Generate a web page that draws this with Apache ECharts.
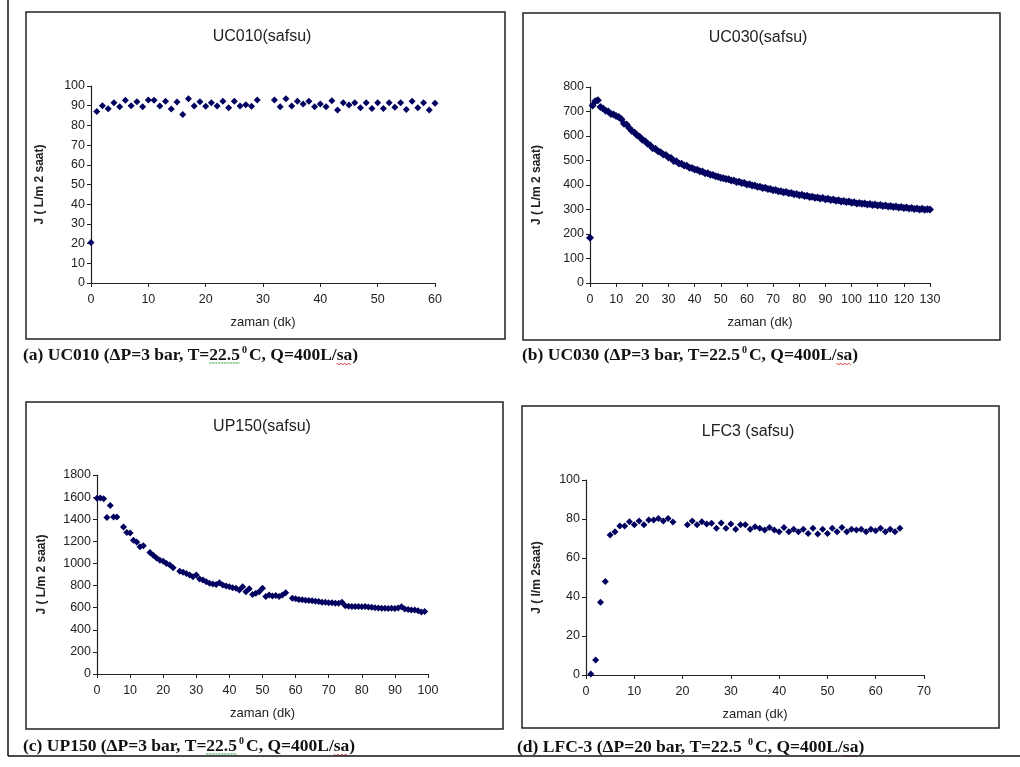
<!DOCTYPE html>
<html>
<head>
<meta charset="utf-8">
<script src="https://cdn.jsdelivr.net/npm/echarts@6/dist/echarts.min.js"></script>
<style>
html,body{margin:0;padding:0;background:#fff;}
#c{width:1020px;height:767px;}
</style>
</head>
<body>
<div id="c"></div>
<script>
// ---------- DATA ----------
const panelTitles = ['UC010(safsu)', 'UC030(safsu)', 'UP150(safsu)', 'LFC3 (safsu)'];
const yNames = ['J ( L/m 2 saat)', 'J ( L/m 2 saat)', 'J ( L/m 2 saat)', 'J ( l/m 2saat)'];
const xName = 'zaman (dk)';
const captionsMain = [
  '(a) UC010 (ΔP=3 bar, T=22.5', '(b) UC030 (ΔP=3 bar, T=22.5', '(c) UP150 (ΔP=3 bar, T=22.5', '(d) LFC-3 (ΔP=20 bar, T=22.5 '
];
const captionTail = 'C, Q=400L/sa)';

// (a) UC010
const aTime = [0,1,2,3,4,5,6,7,8,9,10,11,12,13,14,15,16,17,18,19,20,21,22,23,24,25,26,27,28,29,
  32,33,34,35,36,37,38,39,40,41,42,43,44,45,46,47,48,49,50,51,52,53,54,55,56,57,58,59,60];
const aFlux = [20.5,87,90,88.5,91.5,89.5,92.8,90,92,89.5,92.9,92.8,89.8,92.2,88.3,91.9,85.5,93.5,89.8,92,89.7,91.5,89.8,92.2,89,92.2,89.8,90.5,89.7,92.9,
  92.9,89.5,93.5,89.8,92.2,90.8,92.2,89.5,90.8,89.5,92.5,87.8,91.5,90.3,91.5,89,91.5,88.6,91.5,88.6,91.5,89.2,91.5,88.1,92.2,89,91.5,87.8,91.2];

// (b) UC030
const bTime = [0,1,2,3,4,5,6,7,8,9,10,11,12,13,14,15,16,17,18,19,20,21,22,23,24,25,26,27,28,29,
  30,31,32,33,34,35,36,37,38,39,40,41,42,43,44,45,46,47,48,49,50,51,52,53,54,55,56,57,58,59,
  60,61,62,63,64,65,66,67,68,69,70,71,72,73,74,75,76,77,78,79,80,81,82,83,84,85,86,87,88,89,
  90,91,92,93,94,95,96,97,98,99,100,101,102,103,104,105,106,107,108,109,110,111,112,113,114,115,116,117,118,119,
  120,121,122,123,124,125,126,127,128,129,130];
const bFlux = [185,725,742,746,718,712,703,700,690,688,682,678,668,650,647,633,620,614,603,597,585,580,568,562,550,548,538,534,524,522,
  512,510,498,497,488,487,480,479,470,469,463,462,456,455,448,448,442,441,436,434,430,428,424,423,418,418,412,413,408,408,
  402,403,398,398,393,393,388,389,384,384,379,380,374,375,370,371,366,367,362,363,358,360,355,356,351,352,348,349,345,347,
  342,344,339,341,336,338,333,335,331,333,328,330,325,327,323,325,320,322,318,320,316,318,314,316,312,314,310,312,308,310,
  306,308,304,306,302,304,300,303,299,301,300];

// (c) UP150
const cTime = [0,1,2,3,4,5,6,8,9,10,11,12,13,14,16,17,18,19,20,21,22,23,25,26,27,28,29,30,31,32,33,34,35,36,37,38,39,40,
  41,42,43,44,45,46,47,48,49,50,51,52,53,54,55,56,57,59,60,61,62,63,64,65,66,67,68,69,70,71,72,73,74,75,76,77,78,79,
  80,81,82,83,84,85,86,87,88,89,90,91,92,93,94,95,96,97,98,99];
const cFlux = [1590,1592,1585,1415,1525,1420,1420,1330,1280,1275,1210,1195,1150,1160,1100,1075,1050,1030,1020,1000,985,960,930,920,910,895,880,895,860,850,835,820,815,810,825,805,795,790,
  780,775,760,790,745,770,720,730,745,775,700,715,705,710,700,715,735,685,680,675,672,668,665,662,658,655,650,648,645,645,640,640,650,618,612,610,610,610,
  608,610,605,603,600,596,594,595,593,595,592,598,608,588,583,580,578,573,560,565];

// (d) LFC3
const dTime = [1,2,3,4,5,6,7,8,9,10,11,12,13,14,15,16,17,18,
  21,22,23,24,25,26,27,28,29,30,31,32,33,34,35,36,37,38,39,40,41,42,43,44,45,46,47,48,49,50,51,52,53,54,55,56,57,58,59,60,61,62,63,64,65];
const dFlux = [0.5,7.7,37.3,47.9,71.8,73.5,76.4,76.4,78.6,77,79,77,79.5,79.5,80.3,79,80.3,78.5,
  77,79,77,78.6,77.4,77.8,75.2,78,75.2,77.4,74.7,77,77,74.7,76,75.2,74.4,75.7,74.4,73.5,75.7,73.5,74.7,73.5,74.7,72.6,75.2,72.3,74.7,72.6,75.2,73.5,75.7,73.5,74.7,74.4,74.7,73.5,74.7,74,75.2,73.5,74.7,73.5,75.2];

// axis ranges / tick steps
const xMax = [60, 130, 100, 70];
const xStep = [10, 10, 10, 10];
const yMax = [100, 800, 1800, 100];
const yStep = [10, 100, 200, 20];

// ---------- LAYOUT ----------
const grids = [
  {left: 91, top: 86, width: 344, height: 197},
  {left: 590, top: 87, width: 340, height: 196},
  {left: 97, top: 475, width: 331, height: 199},
  {left: 586, top: 480, width: 338, height: 195}
];
const frames = [
  {x: 26, y: 12, w: 479, h: 327},
  {x: 523, y: 13, w: 477, h: 327},
  {x: 26, y: 402, w: 477, h: 327},
  {x: 522, y: 406, w: 477, h: 322}
];
const titlePos = [[262, 37], [758, 38], [262, 427], [748, 432]];
const capPos = [[23, 355], [522, 355], [23, 746], [517, 747]];
const yNameGap = [45, 47, 49, 43];
const symSize = [7, 8, 7, 7];
const greenMark = [true, false, true, false];

const FONT = '"Liberation Sans", Arial, sans-serif';
const SERIF = '"Liberation Serif", "Times New Roman", serif';
const COLOR = '#00005e';
const CAP_SIZE = 17.5;

const measureCtx = document.createElement('canvas').getContext('2d');
function textW(s, size) {
  measureCtx.font = 'bold ' + size + 'px "Liberation Serif"';
  return measureCtx.measureText(s).width;
}
function wavy(x1, x2, y, color) {
  const pts = [];
  let up = true;
  for (let x = x1; x <= x2; x += 2) { pts.push([x, y + (up ? 0 : 2)]); up = !up; }
  return {type: 'polyline', shape: {points: pts}, style: {stroke: color, lineWidth: 1, fill: null}, silent: true};
}

const times = [aTime, bTime, cTime, dTime];
const fluxes = [aFlux, bFlux, cFlux, dFlux];

const xAxes = [], yAxes = [], series = [], graphic = [];
for (let i = 0; i < 4; i++) {
  xAxes.push({
    type: 'value', gridIndex: i, min: 0, max: xMax[i], interval: xStep[i],
    name: xName, nameLocation: 'middle', nameGap: 33,
    nameTextStyle: {fontFamily: FONT, fontSize: 13, color: '#222'},
    axisLine: {lineStyle: {color: '#222', width: 1.2}},
    axisTick: {show: true, length: 4, lineStyle: {color: '#222'}},
    axisLabel: {fontFamily: FONT, fontSize: 12.5, color: '#222', margin: 10},
    splitLine: {show: false}
  });
  yAxes.push({
    type: 'value', gridIndex: i, min: 0, max: yMax[i], interval: yStep[i],
    name: yNames[i], nameLocation: 'middle', nameGap: yNameGap[i], nameRotate: 90,
    nameTextStyle: {fontFamily: FONT, fontSize: 12, fontWeight: 'bold', color: '#222'},
    axisLine: {show: true, lineStyle: {color: '#222', width: 1.2}},
    axisTick: {show: true, length: 4, lineStyle: {color: '#222'}},
    axisLabel: {fontFamily: FONT, fontSize: 12.5, color: '#222', margin: 6, formatter: v => String(v)},
    splitLine: {show: false}
  });
  const pts = times[i].map((t, k) => [t, fluxes[i][k]]);
  series.push({
    type: 'scatter', xAxisIndex: i, yAxisIndex: i, data: pts,
    symbol: 'diamond', symbolSize: symSize[i],
    itemStyle: {color: COLOR, opacity: 1}, silent: true, animation: false
  });
  const f = frames[i];
  graphic.push({
    type: 'rect', shape: {x: f.x, y: f.y, width: f.w, height: f.h},
    style: {fill: 'none', stroke: '#222', lineWidth: 1.5}, silent: true
  });
  graphic.push({
    type: 'text', x: titlePos[i][0], y: titlePos[i][1],
    style: {text: panelTitles[i], fontFamily: FONT, fontSize: 16, fill: '#222',
      textAlign: 'center', textVerticalAlign: 'middle'}
  });
  graphic.push({
    type: 'text', x: capPos[i][0], y: capPos[i][1],
    style: {
      text: '{t|' + captionsMain[i] + '}{s|0}{t|' + captionTail + '}',
      textVerticalAlign: 'middle', textAlign: 'left',
      rich: {
        t: {fontFamily: SERIF, fontSize: CAP_SIZE, fontWeight: 'bold', fill: '#111', lineHeight: 20},
        s: {fontFamily: SERIF, fontSize: 10, fontWeight: 'bold', fill: '#111', verticalAlign: 'top', lineHeight: 12, padding: [0, 2, 0, 2]}
      }
    }
  });
  // spell-check underlines of the original document
  const main = captionsMain[i];
  const idx = main.indexOf('22.5');
  const uy = capPos[i][1] + 8;
  if (greenMark[i]) {
    const gx1 = capPos[i][0] + textW(main.slice(0, idx), CAP_SIZE);
    const gx2 = gx1 + textW('22.5', CAP_SIZE);
    graphic.push({type: 'line', shape: {x1: gx1, y1: uy, x2: gx2, y2: uy},
      style: {stroke: '#2a9a2a', lineWidth: 1, lineDash: [2, 1]}, silent: true});
  }
  const tailStart = capPos[i][0] + textW(main, CAP_SIZE) + 9;
  const sx1 = tailStart + textW('C, Q=400L/', CAP_SIZE);
  const sx2 = sx1 + textW('sa', CAP_SIZE);
  graphic.push(wavy(sx1, sx2, uy, '#e03030'));
}
// page border lines
graphic.push({type: 'line', shape: {x1: 8, y1: 0, x2: 8, y2: 756}, style: {stroke: '#111', lineWidth: 1.5}, silent: true});
graphic.push({type: 'line', shape: {x1: 8, y1: 756, x2: 1020, y2: 756}, style: {stroke: '#111', lineWidth: 1.5}, silent: true});

const chart = echarts.init(document.getElementById('c'), null, {renderer: 'canvas'});
chart.setOption({
  backgroundColor: '#fff',
  animation: false,
  grid: grids.map(g => Object.assign({containLabel: false}, g)),
  xAxis: xAxes,
  yAxis: yAxes,
  series: series,
  graphic: graphic
});
</script>
</body>
</html>
